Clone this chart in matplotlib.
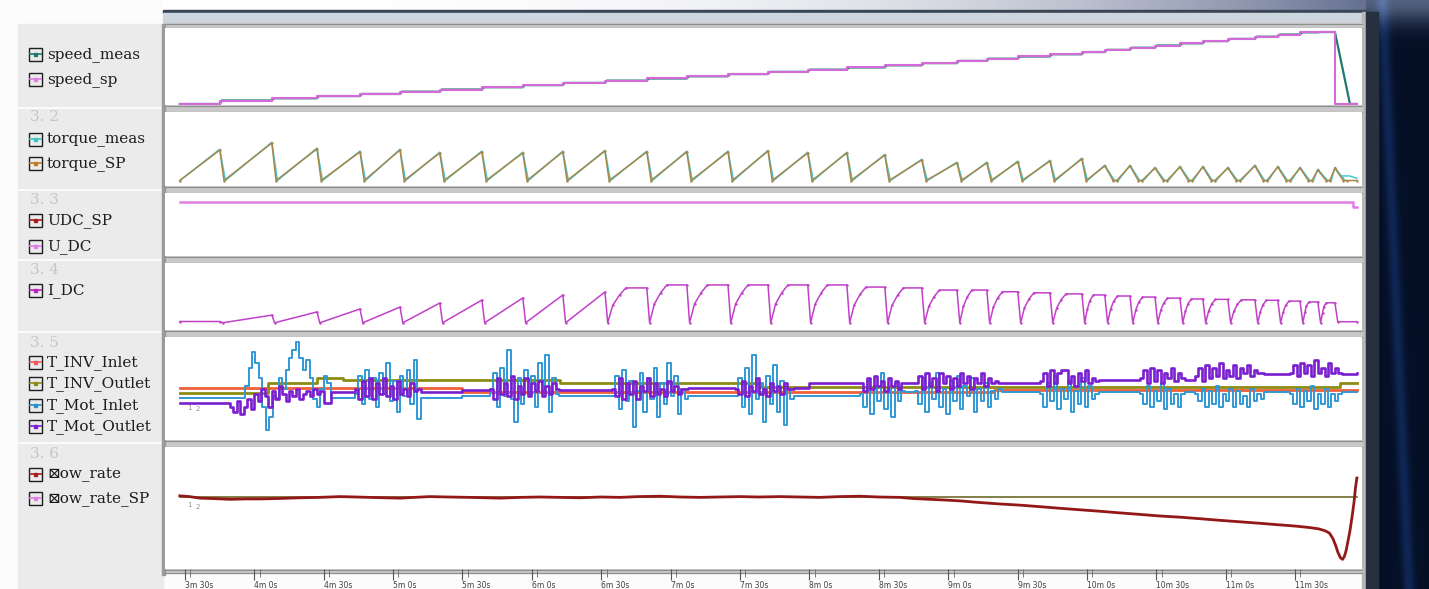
import numpy as np
import matplotlib.pyplot as plt
from matplotlib.patches import Rectangle

W, H = 1429, 589

# ---- data (time axis in seconds) ----
t_first, t_last = 207.8, 716.7

# end of each load cycle (torque peak / speed step)
cycle_t = [225.1, 247.6, 267.1, 285.7, 303.0, 320.2, 338.4, 356.1, 373.4, 391.6,
           409.7, 427.0, 444.8, 462.1, 479.3, 496.2, 512.6, 528.6, 543.8, 556.7,
           570.1, 584.0, 597.8, 607.7, 618.6, 629.4, 640.2, 650.1, 660.9, 672.6,
           682.5, 692.1, 699.8, 707.2]

speed_levels = [0, 440, 720, 1000, 1270, 1560, 1830, 2120, 2390, 2670,
                2960, 3230, 3510, 3790, 4070, 4350, 4630, 4900, 5180, 5460,
                5740, 6020, 6300, 6580, 6860, 7130, 7410, 7690, 7970, 8250,
                8530, 8800, 9080, 9120]

torque_peak = [117, 143, 121, 110, 117, 106, 110, 106, 110, 113,
               110, 110, 110, 113, 106, 106, 98, 80, 69, 69,
               73, 76, 84, 58, 58, 50, 54, 54, 50, 58,
               54, 50, 43, 50]
torque_meas_tail_t = [710.0, 713.5, 716.7]
torque_meas_tail_v = [21, 21, 12]

idc_peak = [20, 50, 65, 79, 88, 107, 121, 131, 145, 159,
            178, 192, 192, 192, 192, 192, 182, 178, 168, 168,
            160, 155, 150, 145, 140, 135, 130, 126, 124, 122,
            120, 116, 112, 108]

udc_t = [207.8, 715.0, 715.0, 716.7]
udc_v = [360, 360, 328, 328]

tinv_in_t = [207.8, 330.0, 560.0, 716.7]
tinv_in_v = [40.2, 38.5, 39.4, 39.4]
tinv_out_t = [207.8, 245.9, 267.1, 278.3, 372.0, 458.6, 709.3, 716.7]
tinv_out_v = [38.3, 42.1, 44.1, 43.3, 42.1, 40.6, 42.1, 42.1]

mot_in_base_t = [207.8, 330.0, 520.0, 716.7]
mot_in_base_v = [36.3, 37.1, 38.6, 38.6]
mot_in_start = [236.0, 250.5, 283.5, 341.8, 394.6, 447.8, 501.8, 525.6, 579.6, 622.8, 646.6, 687.7]
mot_in_vals = [
    [41, 48, 54, 50, 44, 33, 24, 29, 37],
    [44, 40, 47, 52, 55, 58, 52, 47, 51, 44, 36, 33, 40, 45, 42],
    [38, 45, 34, 47, 36, 44, 33, 46, 38, 50, 35, 43, 31, 45, 37, 47, 34, 51, 28],
    [40, 46, 33, 48, 37, 55, 36, 27, 44, 34, 47, 38, 45, 33, 50, 39, 53, 31, 44, 38],
    [37, 45, 32, 47, 35, 43, 25, 39, 46, 31, 44, 36, 48, 29, 42, 34, 50, 37, 45, 30, 40, 36],
    [37, 44, 33, 48, 30, 53, 36, 42, 27, 45, 34, 49, 31, 43, 26, 40, 36],
    [38, 33, 43, 30, 41, 35, 46, 32, 40, 29, 42, 35, 39],
    [39, 34, 44, 31, 42, 36, 46, 33, 40, 30, 43, 35, 45, 32, 41, 37, 44, 31, 40, 35, 42, 33, 39, 36, 40],
    [38, 33, 42, 35, 45, 32, 40, 36, 43, 31, 39, 34, 44, 33, 41, 36, 38],
    [38, 34, 41, 33, 39, 35, 42, 32, 40, 34, 38, 33, 38],
    [38, 35, 40, 33, 39, 34, 41, 33, 38, 35, 40, 33, 39, 34, 37, 33, 40, 35, 38, 36],
    [38, 34, 40, 33, 39, 35, 41, 32, 38, 34, 40, 33, 38, 35, 38],
]

mot_out_base_t = [207.8, 273.0, 330.0, 400.0, 480.0, 600.0, 660.0, 716.7]
mot_out_base_v = [34.4, 38.6, 39.4, 40.2, 42.1, 43.3, 45.6, 46.0]
mot_out_start = [229.5, 283.5, 341.8, 394.6, 447.8, 501.8, 525.6, 579.6, 622.8, 646.6, 687.7]
mot_out_vals = [
    [33, 31, 35, 30, 33, 36, 32, 38, 35, 40, 37, 33, 39, 36, 41, 38, 35, 39, 37, 40, 36, 38, 39, 37, 40, 38, 39],
    [40, 36, 43, 37, 44, 36, 42, 38, 44, 37, 41, 36, 43, 38, 40, 37, 42, 39, 40],
    [40, 36, 44, 38, 42, 37, 45, 36, 41, 38, 44, 37, 42, 39, 43, 37, 41, 38, 42, 40],
    [40, 37, 44, 36, 42, 38, 43, 36, 41, 39, 44, 37, 42, 38, 40, 37, 43, 39, 41, 38, 40, 40],
    [40, 38, 43, 37, 41, 39, 44, 38, 40, 37, 42, 39, 41, 38, 42, 40, 40],
    [42, 39, 44, 40, 45, 41, 43, 39, 44, 41, 43, 40, 42],
    [42, 45, 40, 46, 41, 44, 39, 46, 42, 45, 40, 44, 41, 46, 42, 45, 40, 44, 42, 46, 41, 44, 42, 43, 42],
    [43, 46, 41, 47, 42, 46, 47, 47, 42, 45, 41, 46, 43, 47, 42, 44, 43],
    [44, 47, 42, 48, 43, 47, 42, 46, 44, 48, 43, 46, 44],
    [45, 48, 43, 49, 44, 48, 45, 50, 44, 47, 45, 49, 44, 48, 46, 49, 45, 47, 46, 46],
    [46, 49, 45, 50, 46, 49, 45, 51, 46, 48, 45, 50, 46, 48, 46],
]

flow_t = [207.8, 212, 216.5, 222, 229.5, 236, 242.4, 250, 259.7, 268,
          277.0, 284, 290.0, 296, 303.0, 309, 315.9, 324, 333.2, 340,
          346.2, 355, 363.5, 372, 380.8, 390, 398.1, 406, 415.4, 424,
          432.7, 441, 449.9, 458, 467.2, 476, 484.5, 493, 501.8, 510,
          519.1, 525, 532.1, 539, 545.1, 553, 562.4, 571, 579.7, 588,
          597.0, 606, 614.2, 623, 631.5, 640, 648.8, 657, 666.1, 675,
          683.4, 690, 696.4, 700, 702.9, 704.8, 706.3, 707.5, 708.5, 709.6,
          710.5, 711.3, 712.0, 712.8, 713.7, 714.6, 715.5, 716.1, 716.7]
flow_v = [9.7, 9.6, 9.4, 9.35, 9.25, 9.3, 9.3, 9.35, 9.45, 9.5,
          9.6, 9.55, 9.5, 9.45, 9.4, 9.5, 9.6, 9.55, 9.5, 9.45,
          9.4, 9.5, 9.55, 9.5, 9.45, 9.55, 9.5, 9.6, 9.65, 9.55,
          9.5, 9.55, 9.6, 9.55, 9.6, 9.55, 9.5, 9.6, 9.65, 9.55,
          9.5, 9.35, 9.25, 9.15, 9.05, 8.85, 8.65, 8.5, 8.3, 8.1,
          7.9, 7.7, 7.5, 7.3, 7.1, 6.95, 6.75, 6.55, 6.35, 6.15,
          5.95, 5.8, 5.6, 5.45, 5.2, 4.9, 4.2, 3.3, 2.4, 1.7,
          1.5, 1.9, 2.6, 3.8, 5.2, 7.0, 9.0, 10.8, 12.0]
flow_sp = 9.55

tick_t = [210, 240, 270, 300, 330, 360, 390, 420, 450, 480, 510, 540, 570, 600, 630, 660, 690]
tick_labels = ["3m 30s", "4m 0s", "4m 30s", "5m 0s", "5m 30s", "6m 0s", "6m 30s", "7m 0s",
               "7m 30s", "8m 0s", "8m 30s", "9m 0s", "9m 30s", "10m 0s", "10m 30s",
               "11m 0s", "11m 30s"]

legend_rows = [
    ("speed_meas", "#1f7a6c", 54), ("speed_sp", "#e07ee6", 79),
    ("torque_meas", "#3cc4c4", 139), ("torque_SP", "#c07a28", 163),
    ("UDC_SP", "#a81c1c", 220), ("U_DC", "#e07ee6", 246),
    ("I_DC", "#c020c0", 290),
    ("T_INV_Inlet", "#f05a5a", 362), ("T_INV_Outlet", "#8c8c14", 383),
    ("T_Mot_Inlet", "#2e8ed0", 405), ("T_Mot_Outlet", "#7a1ed0", 426),
    ("\u22a0ow_rate", "#a81c1c", 474), ("\u22a0ow_rate_SP", "#e07ee6", 498),
]
section_labels = [("3. 2", 117), ("3. 3", 200), ("3. 4", 270), ("3. 5", 343), ("3. 6", 454)]


def step_value(ts, vs, t):
    i = np.searchsorted(ts, t, side="right") - 1
    return vs[max(i, 0)]


def burst_series(base_t, base_v, starts, vals, dt=1.5):
    spans = [(s, s + dt * len(v)) for s, v in zip(starts, vals)]
    pts = [(t, v) for t, v in zip(base_t, base_v)
           if not any(a <= t < b for a, b in spans)]
    for s, v, (a, b) in zip(starts, vals, spans):
        pts += [(s + i * dt, x) for i, x in enumerate(v)]
        pts.append((b, step_value(base_t, base_v, b)))
    pts.sort()
    return [p[0] for p in pts], [p[1] for p in pts]


def torque_path(peaks, trough, bump=0.0, lag=0.0):
    tt, vv = [t_first], [trough]
    for tc, pk in zip(cycle_t, peaks):
        late = tc > 600
        fall = 3.6 if late else 1.8
        tt += [tc, tc + fall + lag]
        vv += [pk + bump, trough]
        if late:
            tt.append(tc + fall + lag + 1.6)
            vv.append(trough)
    tt.append(t_last)
    vv.append(trough)
    return tt, vv


def idc_path(trough=14):
    tt, vv = [t_first, cycle_t[0]], [idc_peak[0], idc_peak[0]]
    prev = cycle_t[0]
    for tc, pk in zip(cycle_t[1:], idc_peak[1:]):
        period = tc - prev
        tt.append(prev + 1.2)
        vv.append(trough)
        if tc < 400:
            tt.append(tc)
            vv.append(pk)
        else:
            tt += [prev + 1.2 + 0.12 * period, prev + 0.35 * period, prev + 0.5 * period, tc]
            vv += [trough + 0.5 * (pk - trough), trough + 0.8 * (pk - trough), pk, pk]
        prev = tc
    tt += [prev + 1.2, t_last]
    vv += [19, 19]
    return tt, vv


fig = plt.figure(figsize=(W / 100, H / 100), dpi=100)
bg = fig.add_axes([0, 0, 1, 1])
bg.set_xlim(0, W)
bg.set_ylim(H, 0)
bg.axis("off")

bg.add_patch(Rectangle((0, 0), W, H, color="#fcfcfc", zorder=0))

# top strip gradient (desktop behind window)
g = np.linspace(0, 1, 400)
top = np.ones((1, 400, 3))
top[0, :, 0] = 1 - 0.70 * g ** 3
top[0, :, 1] = 1 - 0.65 * g ** 3
top[0, :, 2] = 1 - 0.50 * g ** 3
bg.imshow(top, extent=(163, W, 11, 0), aspect="auto", zorder=1)

# right desktop area
yy, xx = np.mgrid[0:H, 0:63]
desk = np.zeros((H, 63, 3))
desk[:] = [0.02, 0.06, 0.15]
d = np.abs(xx - (16 + 0.045 * yy))
desk += np.exp(-(d / 6.0) ** 2)[..., None] * np.array([0.04, 0.09, 0.18])
desk += np.exp(-(yy / 22.0) ** 2)[..., None] * np.array([0.30, 0.32, 0.34])
bg.imshow(np.clip(desk, 0, 1), extent=(1366, W, H, 0), aspect="auto", zorder=1)

# window frame
bg.add_patch(Rectangle((163, 10), 1203, 3, color="#3a4656", zorder=2))
bg.add_patch(Rectangle((163, 13), 1203, 10, color="#cdd5de", zorder=2))
bg.add_patch(Rectangle((1362, 12), 4, H - 12, color="#b6b6b6", zorder=2))
bg.add_patch(Rectangle((1366, 12), 12, H - 12, color="#26303f", zorder=2))

# legend panel
bg.add_patch(Rectangle((18, 24), 145, H - 24, color="#ebebeb", zorder=2))
for yl in [108, 190, 260, 332, 443]:
    bg.plot([18, 163], [yl, yl], color="white", lw=1.2, zorder=3)
bg.add_patch(Rectangle((162, 24), 3, 551, color="#9a9a9a", zorder=3))

# separators between panels
for y0, y1 in [(23, 28), (105, 112), (186, 193), (256, 263), (330, 337), (440, 447), (569, 573)]:
    bg.add_patch(Rectangle((165, y0), 1197, y1 - y0, color="#c8c8c8", zorder=2))
    bg.plot([165, 1362], [y0 + 0.5, y0 + 0.5], color="#8e8e8e", lw=0.8, zorder=3)
    bg.plot([165, 1362], [y1 - 0.5, y1 - 0.5], color="#8e8e8e", lw=0.8, zorder=3)

# legend entries
font = ["DejaVu Serif", "DejaVu Sans"]
for label, color, y in legend_rows:
    bg.add_patch(Rectangle((29, y - 6.5), 13, 13, fill=False, ec="#1e1e1e", lw=1.0, zorder=4))
    bg.plot([30, 41], [y, y], color=color, lw=1.2, zorder=4)
    bg.add_patch(Rectangle((34, y - 1.5), 3, 3, color=color, zorder=5))
    bg.text(47, y + 0.5, label, fontsize=11, family=font, va="center", color="#1c1c1c", zorder=5)
for label, y in section_labels:
    bg.text(30, y, label, fontsize=11, family=font, va="center", color="#c6c6c6", zorder=5)


def panel(top_px, bottom_px, ylim):
    ax = fig.add_axes([165 / W, 1 - bottom_px / H, 1197 / W, (bottom_px - top_px) / H])
    ax.set_xlim(201.4, 718.9)
    ax.set_ylim(*ylim)
    ax.set_facecolor("white")
    for s in ax.spines.values():
        s.set_visible(False)
    ax.set_xticks([])
    ax.set_yticks([])
    return ax


# speed
ax1 = panel(28, 105, (-130, 9630))
m_t, m_v = [t_first], [speed_levels[0]]
for tc, a, b in zip(cycle_t[:-1], speed_levels[:-1], speed_levels[1:]):
    m_t += [tc, tc + 0.8]
    m_v += [a, b]
m_t += [cycle_t[-1], 713.7, t_last]
m_v += [speed_levels[-1], 0, 0]
ax1.plot(m_t, m_v, color="#1f7a6c", lw=1.6)
sp_t = [t_first] + cycle_t[:-1] + [cycle_t[-1], t_last]
sp_v = speed_levels + [0, 0]
ax1.plot(sp_t, sp_v, color="#d46ad8", lw=1.5, drawstyle="steps-post")

# torque
ax2 = panel(112, 186, (-16.3, 257.8))
tm_t, tm_v = torque_path(torque_peak, 4, bump=3, lag=0.6)
tm_t, tm_v = tm_t[:-2] + torque_meas_tail_t, tm_v[:-2] + torque_meas_tail_v
ax2.plot(tm_t, tm_v, color="#48c8cc", lw=1.1)
ts_t, ts_v = torque_path(torque_peak, 4)
ax2.plot(ts_t, ts_v, color="#a8884a", lw=1.1, marker=".", ms=1.5)

# DC voltage
ax3 = panel(193, 256, (14, 418))
ax3.plot(udc_t, udc_v, color="#e07ee6", lw=1.8)

# DC current
ax4 = panel(263, 330, (-20, 295.3))
i_t, i_v = idc_path()
ax4.plot(i_t, i_v, color="#c040c8", lw=1.1, marker=".", ms=1.5)

# temperatures
ax5 = panel(337, 440, (20, 60))
ax5.plot(tinv_in_t, tinv_in_v, color="#f0603a", lw=2.0, drawstyle="steps-post")
ax5.plot(tinv_out_t, tinv_out_v, color="#8c8c14", lw=2.0, drawstyle="steps-post")
bt, bv = burst_series(mot_in_base_t, mot_in_base_v, mot_in_start, mot_in_vals)
ax5.plot(bt, bv, color="#3098d4", lw=1.4, drawstyle="steps-post")
pt, pv = burst_series(mot_out_base_t, mot_out_base_v, mot_out_start, mot_out_vals)
ax5.plot(pt, pv, color="#7a1ed0", lw=1.9, drawstyle="steps-post")
ax5.text(211.0, 32.4, "1", fontsize=5, color="#909090", va="center")
ax5.text(214.5, 32.0, "2", fontsize=5, color="#909090", va="center")

# flow rate
ax6 = panel(447, 569, (0.26, 16.0))
ax6.plot([t_first, t_last], [flow_sp, flow_sp], color="#6e6a2a", lw=1.2)
ax6.plot(flow_t, flow_v, color="#941818", lw=2.0)
ax6.text(211.0, 8.5, "1", fontsize=5, color="#909090", va="center")
ax6.text(214.5, 8.3, "2", fontsize=5, color="#909090", va="center")
ax6.set_xticks(tick_t, tick_labels)
ax6.set_xticks([t + 2.3 for t in tick_t], minor=True)
ax6.tick_params(axis="x", which="major", direction="out", length=8, width=0.8,
                color="#555555", labelsize=5.5, labelcolor="#404040", pad=0.3)
ax6.tick_params(axis="x", which="minor", direction="out", length=6, width=0.7, color="#777777")
for lbl in ax6.get_xticklabels():
    lbl.set_horizontalalignment("left")

fig.savefig("out.png", dpi=100)
